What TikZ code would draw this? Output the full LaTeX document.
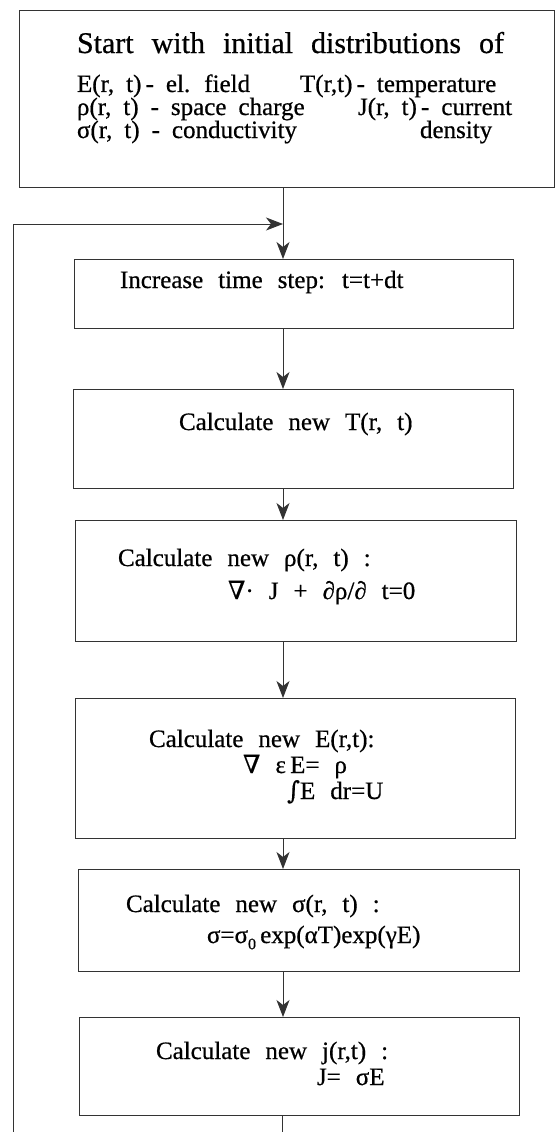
\documentclass[tikz,border=0pt]{standalone}
\usepackage{fontspec}
\setmainfont{Liberation Serif}[FakeBold=0.6]
\newfontfamily\symfont{DejaVu Serif}[FakeBold=0.4]
\usetikzlibrary{arrows.meta}
\newcommand\fbig{\fontsize{30}{30}\selectfont\spaceskip=0.6em\relax}
\newcommand\fmid{\fontsize{25}{25}\selectfont\spaceskip=0.48em\relax}
\newcommand\fbody{\fontsize{25}{25}\selectfont\spaceskip=0.6em\relax}
\begin{document}
\begin{tikzpicture}[x=1pt,y=-1pt,
  box/.style={draw=black!80, line width=0.9pt, inner sep=0pt, outer sep=0pt, anchor=north west},
  lbl/.style={anchor=base west, inner sep=0pt, outer sep=0pt},
  big/.style={lbl},
  mid/.style={lbl},
  body/.style={lbl},
  con/.style={draw=black!80, line width=0.9pt},
  arr/.style={con, -{Stealth[length=17pt,width=13pt,inset=5pt]}}]
\useasboundingbox (0,0) rectangle (556,1132);
\fill[white] (0,0) rectangle (556,1132);
\coordinate (sp) at (283,0);
% boxes
\node[box, minimum width=535pt, minimum height=177pt] (start) at (19,10) {};
\node[box, minimum width=439pt, minimum height=69pt] (b1) at (74,259) {};
\node[box, minimum width=440pt, minimum height=99pt] (b2) at (73,389) {};
\node[box, minimum width=441pt, minimum height=121pt] (b3) at (75,520) {};
\node[box, minimum width=440pt, minimum height=140pt] (b4) at (75,698) {};
\node[box, minimum width=441pt, minimum height=102pt] (b5) at (78,869) {};
\node[box, minimum width=440pt, minimum height=98pt] (b6) at (79,1017) {};
\coordinate (loopbot) at (13,1132);
\coordinate (loopcorner) at (13,224);
\coordinate (loopend) at (283,224);
\coordinate (outbot) at (282,1132);
% texts
\node[big] (t0) at (77,53) {\fbig Start with initial distributions of};
\node[mid] (l1a) at (77,92) {\fmid E(r, t)\,- el. field};
\node[mid] (l1b) at (300,92) {\fmid T(r,t)\,- temperature};
\node[mid] (l2a) at (77,115) {\fmid ρ(r, t) - space charge};
\node[mid] (l2b) at (358,115) {\fmid J(r, t)\,- current};
\node[mid] (l3a) at (77,138) {\fmid σ(r, t) - conductivity};
\node[mid] (l3b) at (420,138) {\fmid density};
\node[body] (x1) at (120,288) {\fbody Increase time step: t=t+dt};
\node[body] (x2) at (179,430) {\fbody Calculate new T(r, t)};
\node[body] (x3a) at (118,566) {\fbody Calculate new ρ(r, t) :};
\node[body] (x3b) at (228,599) {\fbody {\symfont ∇}· J + ∂ρ/∂ t=0};
\node[body] (x4a) at (149,747) {\fbody Calculate new E(r,t):};
\node[body] (x4b) at (243,773) {\fbody {\symfont ∇} ε\,E= ρ};
\node[body] (x4c) at (287,799) {\fbody {\symfont ∫}E dr=U};
\node[body] (x5a) at (126,912) {\fbody Calculate new σ(r, t) :};
\node[body] (x5b) at (207,943) {\fbody σ=σ\raisebox{-0.25em}{\fontsize{16}{16}\selectfont 0}\,exp(αT)exp(γE)};
\node[body] (x6a) at (156,1059) {\fbody Calculate new j(r,t) :};
\node[body] (x6b) at (317,1085) {\fbody J= σE};
% connectors
\draw[arr] (start.south -| sp) -- (b1.north -| sp);
\draw[arr] (loopbot) -- (loopcorner) -- (loopend);
\draw[arr] (b1.south -| sp) -- (b2.north -| sp);
\draw[arr] (b2.south -| sp) -- (b3.north -| sp);
\draw[arr] (b3.south -| sp) -- (b4.north -| sp);
\draw[arr] (b4.south -| sp) -- (b5.north -| sp);
\draw[arr] (b5.south -| sp) -- (b6.north -| sp);
\draw[con] (b6.south -| outbot) -- (outbot);
\end{tikzpicture}
\end{document}
